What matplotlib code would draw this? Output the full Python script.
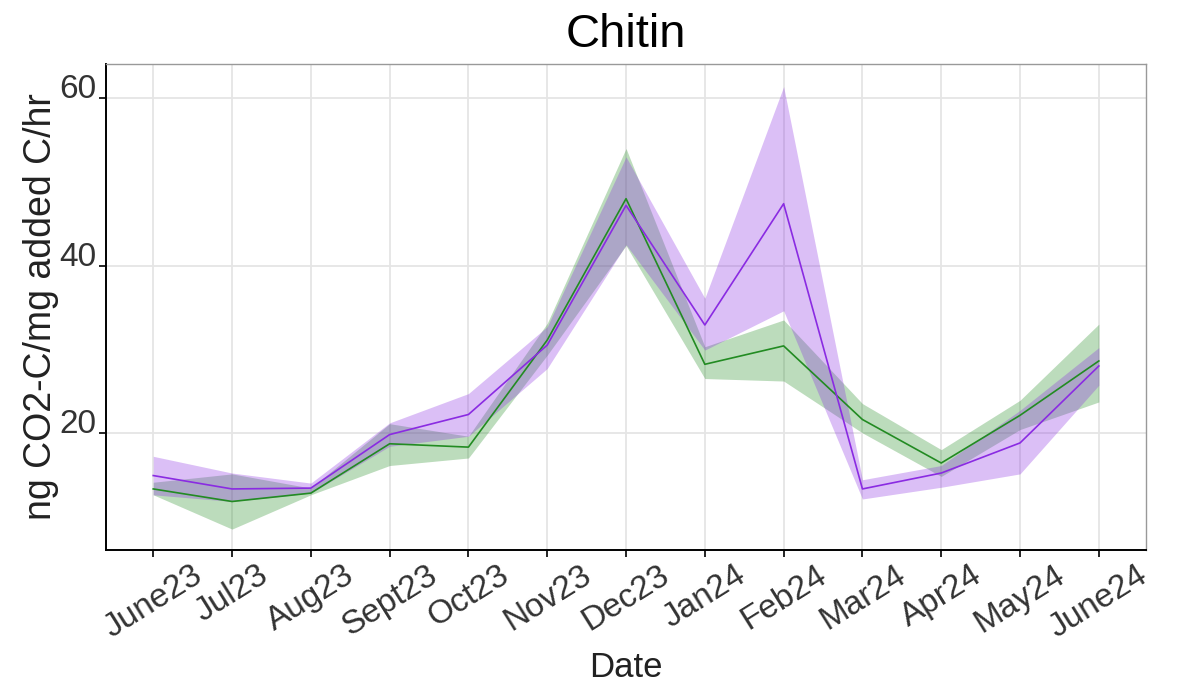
import numpy as np
import matplotlib
matplotlib.use("Agg")
import matplotlib.pyplot as plt

plt.rcParams['font.family'] = ['Liberation Sans', 'DejaVu Sans']

# month labels on the x axis
months = ['June23', 'Jul23', 'Aug23', 'Sept23', 'Oct23', 'Nov23', 'Dec23',
          'Jan24', 'Feb24', 'Mar24', 'Apr24', 'May24', 'June24']

# green series: mean and ribbon
green_mean = [13.3, 11.8, 12.8, 18.7, 18.3, 31.1, 48.0, 28.2, 30.4, 21.6, 16.4, 22.1, 28.6]
green_low = [12.6, 8.5, 12.6, 16.1, 17.0, 29.3, 42.4, 26.5, 26.2, 20.0, 14.8, 20.4, 23.7]
green_high = [14.1, 15.1, 13.4, 21.1, 19.6, 33.1, 54.0, 30.3, 33.5, 23.5, 18.0, 23.9, 33.0]

# purple series: mean and ribbon
purple_mean = [14.9, 13.3, 13.4, 19.8, 22.2, 30.5, 47.2, 32.9, 47.4, 13.3, 15.2, 18.8, 28.0]
purple_low = [12.6, 11.8, 12.8, 18.4, 19.6, 27.7, 42.5, 29.9, 34.6, 12.1, 13.5, 15.1, 25.7]
purple_high = [17.2, 15.2, 14.0, 21.2, 24.7, 32.7, 53.0, 36.1, 61.4, 14.4, 16.1, 22.7, 30.2]

x = np.arange(len(months))

fig = plt.figure(figsize=(11.84, 6.92), dpi=100)
ax = fig.add_axes([0.0895, 0.2052, 0.8785, 0.7023])

ax.fill_between(x, green_low, green_high, color='#228B22', alpha=0.3, linewidth=0)
ax.plot(x, green_mean, color='#228B22', linewidth=1.2)
ax.fill_between(x, purple_low, purple_high, color='#8A2BE2', alpha=0.3, linewidth=0)
ax.plot(x, purple_mean, color='#8A2BE2', linewidth=1.2)

ax.set_xlim(-0.6, 12.6)
ax.set_ylim(6.0, 64.1)
ax.set_xticks(x)
ax.set_xticklabels(months, rotation=32, ha='center')
ax.set_yticks([20, 40, 60])
for lab in ax.get_yticklabels():
    lab.set_verticalalignment('baseline')

ax.grid(True, color='#e5e5e5', linewidth=1.3)
ax.set_axisbelow(True)
for s in ['left', 'bottom']:
    ax.spines[s].set_color('black')
    ax.spines[s].set_linewidth(1.4)
for s in ['top', 'right']:
    ax.spines[s].set_color('#999999')
    ax.spines[s].set_linewidth(1.0)

ax.tick_params(axis='both', length=5, width=1.2, color='black',
               labelsize=24, labelcolor='#333333')
ax.tick_params(axis='y', pad=2)
ax.tick_params(axis='x', pad=2)

ax.set_xlabel('Date', fontsize=25, color='#222222', labelpad=5)
ax.set_ylabel('ng CO2-C/mg added C/hr', fontsize=27, color='#222222', labelpad=0)
ax.set_title('Chitin', fontsize=34, pad=12)

fig.savefig('out.png', dpi=100)
